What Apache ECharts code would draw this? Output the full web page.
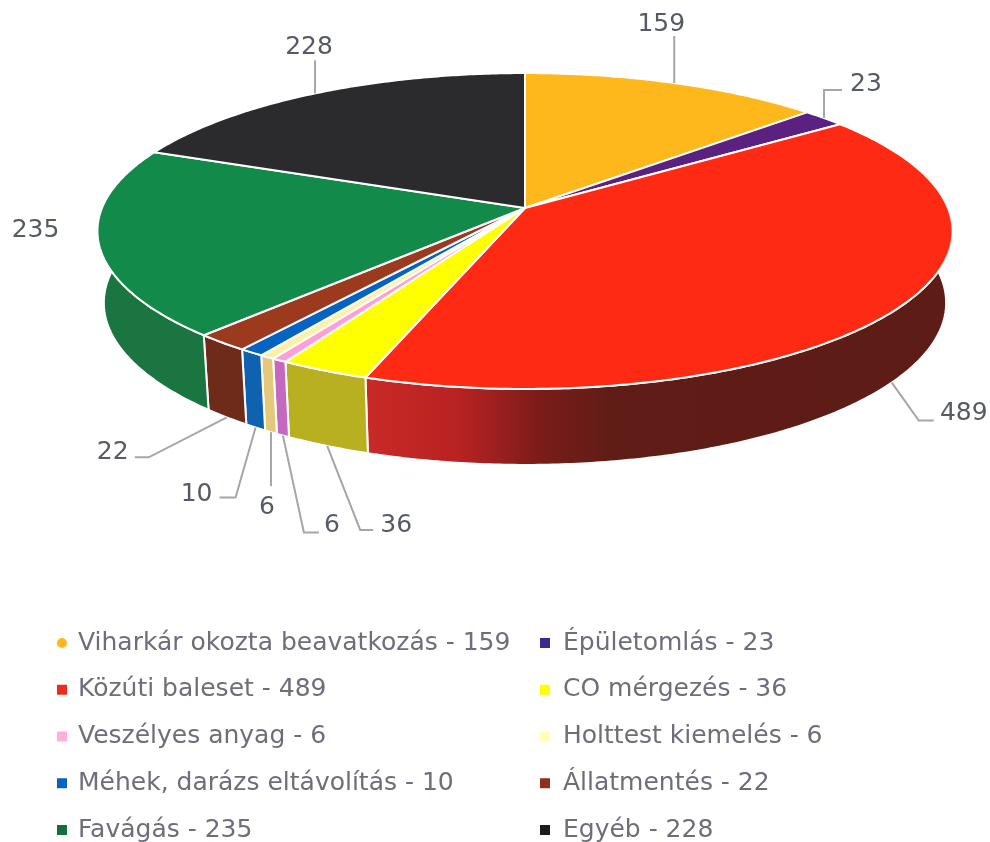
<!DOCTYPE html>
<html>
<head>
<meta charset="utf-8">
<title>Beavatkozások</title>
<script src="https://cdn.jsdelivr.net/npm/echarts@6/dist/echarts.min.js"></script>
<style>
  html, body { margin: 0; padding: 0; background: #fff; }
  #chart { width: 990px; height: 842px; }
</style>
</head>
<body>
<div id="chart"></div>
<script>
// data, clockwise from 12 o'clock
var names = ["Viharkár okozta beavatkozás", "Épületomlás", "Közúti baleset", "CO mérgezés", "Veszélyes anyag",
  "Holttest kiemelés", "Méhek, darázs eltávolítás", "Állatmentés", "Favágás", "Egyéb"];
var values = [159, 23, 489, 36, 6, 6, 10, 22, 235, 228];

var topColors = ["#ffb81c", "#5a2180", "#ff2a14", "#ffff00", "#ff9fd5", "#fff0a8", "#0563c1", "#9c3a1e", "#128a4a", "#2b2b2e"];
var legendColors = ["#ffb81c", "#3a2a90", "#ee2a20", "#ffff00", "#ffb0dc", "#ffffb8", "#0563c1", "#8c3020", "#12703f", "#1c1c1e"];
var wallStops = [
  [[0, "#d89a18"], [1, "#d89a18"]],
  [[0, "#3c1560"], [1, "#3c1560"]],
  [[0, "#c92a26"], [0.16, "#b82222"], [0.3, "#7a1c1a"], [0.42, "#601c16"], [1, "#5e1c16"]],
  [[0, "#b8b020"], [1, "#b8b020"]],
  [[0, "#c468c0"], [1, "#c468c0"]],
  [[0, "#e5c87a"], [1, "#e5c87a"]],
  [[0, "#0f62b0"], [1, "#0f62b0"]],
  [[0, "#6e2b1a"], [1, "#6e2b1a"]],
  [[0, "#1a7540"], [1, "#1a7540"]],
  [[0, "#1c1c1e"], [1, "#1c1c1e"]]
];

// leader line offsets from the rim point of each slice, and where its number goes
var leaders = [
  [[0, -47]],
  [[0, -28], [18, -28]],
  [[27, 38], [42, 38]],
  [[33, 84], [46, 84]],
  [[21, 97], [36, 97]],
  [[0, 54]],
  [[-20, 70], [-36, 70]],
  [[-78, 40], [-92, 40]],
  [],
  [[0, -33]]
];
var labelOffsets = [[-13, -58], [42, -34], [72, 31], [69, 80], [49, 90], [-4, 75], [-59, 67], [-114, 35], [-63, -12], [-6, -46]];
var onBackRim = [true, true, false, false, false, false, false, false, true, true];

// tilted disc: a circle seen in perspective
var cx = 525, cy = 208, A = 423, B = 154.6, persp = -0.1456;
var depth = 71, bottomShrink = 0.985;
var total = values.reduce(function (a, b) { return a + b; }, 0);

function rim(angle, lower) {
  var u = Math.sin(angle), v = -Math.cos(angle), w = 1 + persp * v;
  var x = cx + A * u / w, y = cy + B * v / w;
  if (lower) {
    x = cx + (x - cx) * bottomShrink;
    y = y + depth * (1 + 0.07 * v);
  }
  return [x, y];
}

function arcPoints(a0, a1, lower) {
  var pts = [], n = Math.max(2, Math.ceil((a1 - a0) / 0.01));
  for (var i = 0; i <= n; i++) {
    pts.push(rim(a0 + (a1 - a0) * i / n, lower));
  }
  return pts;
}

function makeRender(idx, before) {
  var a0 = before / total * Math.PI * 2;
  var a1 = (before + values[idx]) / total * Math.PI * 2;
  var mid = (a0 + a1) / 2;
  return function () {
    var children = [];
    var top = [[cx, cy]].concat(arcPoints(a0, a1, false));
    var wall = arcPoints(a0, a1, false).concat(arcPoints(a0, a1, true).reverse());
    children.push({
      type: "polygon", z2: 1,
      shape: { points: wall },
      style: { fill: new echarts.graphic.LinearGradient(0, 0, 1, 0, wallStops[idx].map(function (s) {
        return { offset: s[0], color: s[1] };
      })), stroke: "#fff", lineWidth: 2, lineJoin: "round" }
    });
    children.push({
      type: "polygon", z2: 2,
      shape: { points: top },
      style: { fill: topColors[idx], stroke: "#fff", lineWidth: 2, lineJoin: "round" }
    });
    var start = rim(mid, !onBackRim[idx]);
    if (leaders[idx].length) {
      var line = [start].concat(leaders[idx].map(function (d) { return [start[0] + d[0], start[1] + d[1]]; }));
      children.push({
        type: "polyline", z2: 3,
        shape: { points: line },
        style: { fill: null, stroke: "#a6a6a6", lineWidth: 2 }
      });
    }
    children.push({
      type: "text", z2: 4,
      x: start[0] + labelOffsets[idx][0],
      y: start[1] + labelOffsets[idx][1],
      style: {
        text: String(values[idx]),
        font: "25px 'DejaVu Sans'",
        fill: "#565a66",
        align: "center",
        verticalAlign: "middle"
      }
    });
    return { type: "group", children: children };
  };
}

var series = [], running = 0;
names.forEach(function (name, i) {
  series.push({
    type: "custom",
    name: name + " - " + values[i],
    coordinateSystem: "none",
    silent: true,
    data: [[values[i]]],
    itemStyle: { color: legendColors[i] },
    renderItem: makeRender(i, running)
  });
  running += values[i];
});

function legendFor(indexes, left, textGap) {
  return {
    left: left,
    top: 625,
    height: 215,
    orient: "vertical",
    itemWidth: 10,
    itemHeight: 10,
    itemGap: 20.75,
    selectedMode: false,
    icon: "rect",
    textStyle: {
      fontFamily: "DejaVu Sans",
      fontSize: 25,
      lineHeight: 26,
      color: "#6d6d7c",
      padding: [0, 0, 0, textGap]
    },
    data: indexes.map(function (i) {
      return { name: names[i] + " - " + values[i], icon: i === 0 ? "circle" : "rect" };
    })
  };
}

var chart = echarts.init(document.getElementById("chart"), null, { renderer: "canvas" });
chart.setOption({
  animation: false,
  backgroundColor: "#fff",
  legend: [legendFor([0, 2, 4, 6, 8], 52, 6), legendFor([1, 3, 5, 7, 9], 535, 8)],
  series: series
});
</script>
</body>
</html>
